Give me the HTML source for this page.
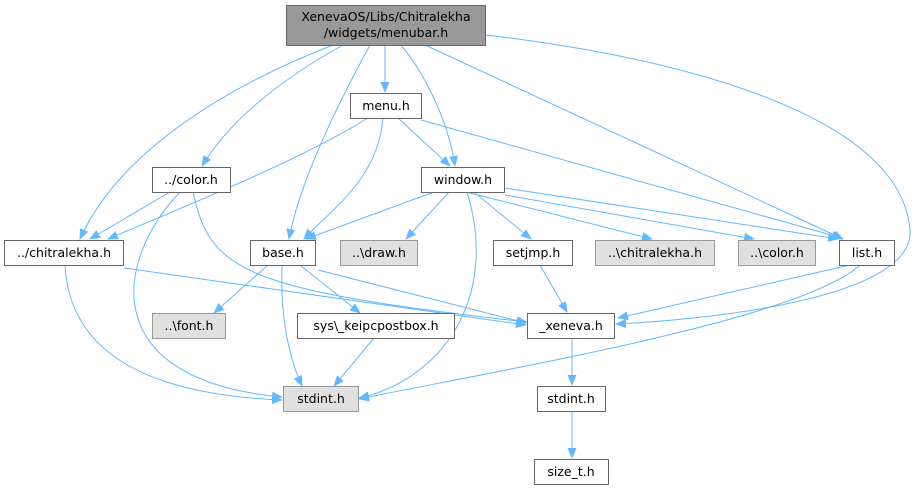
<!DOCTYPE html>
<html><head><meta charset="utf-8"><style>
html,body{margin:0;padding:0;background:#fff;}
svg{display:block;}
text{font-family:"DejaVu Sans","Liberation Sans",sans-serif;font-size:12.5px;fill:#000;text-anchor:middle;}
.n{fill:#fff;stroke:#666;stroke-width:1;}
.g{fill:#e0e0e0;stroke:#999;stroke-width:1;}
.e{fill:none;stroke:#63b8ff;stroke-width:1;marker-end:url(#a);}
</style></head><body>
<svg width="918" height="491" viewBox="0 0 918 491" xmlns="http://www.w3.org/2000/svg">
<defs><marker id="a" markerWidth="11" markerHeight="9" refX="10" refY="4.5" orient="auto" markerUnits="userSpaceOnUse"><path d="M0,0 L11,4.5 L0,9 z" fill="#63b8ff"/></marker></defs>
<path class="e" d="M385,45 L385,92"/>
<path class="e" d="M333,45 C230,85 120,150 80,239"/>
<path class="e" d="M343,45 C280,80 230,120 202,166"/>
<path class="e" d="M370,45 C340,100 300,180 289,239"/>
<path class="e" d="M401,45 C430,80 450,130 455,166"/>
<path class="e" d="M425,45 L843,239"/>
<path class="e" d="M485,35 C620,50 900,100 910,230 C915,300 700,320 616,324"/>
<path class="e" d="M368,118 C300,160 200,200 108,239"/>
<path class="e" d="M383,118 C378,180 330,210 304,239"/>
<path class="e" d="M398,118 L450,166"/>
<path class="e" d="M421,120 L842,238"/>
<path class="e" d="M170,192 L90,239"/>
<path class="e" d="M180,192 C115,260 95,380 282,397"/>
<path class="e" d="M193,192 C210,270 240,290 527,322"/>
<path class="e" d="M434,192 L306,239"/>
<path class="e" d="M449,192 L406,239"/>
<path class="e" d="M474,192 L531,239"/>
<path class="e" d="M466,192 L652,239"/>
<path class="e" d="M505,195 L754,239"/>
<path class="e" d="M505,188 L838,239"/>
<path class="e" d="M467,192 C500,300 440,380 359,398"/>
<path class="e" d="M268,265 L214,313"/>
<path class="e" d="M300,265 L360,313"/>
<path class="e" d="M318,270 L526,323"/>
<path class="e" d="M282,265 C280,320 290,360 302,386"/>
<path class="e" d="M124,268 L526,325"/>
<path class="e" d="M65,265 C70,360 160,395 282,400"/>
<path class="e" d="M540,265 L567,312"/>
<path class="e" d="M850,265 L618,318"/>
<path class="e" d="M860,265 C800,320 500,370 359,399"/>
<path class="e" d="M374,338 L334,386"/>
<path class="e" d="M572,338 L572,385"/>
<path class="e" d="M572,411 L572,458"/>
<rect x="286.5" y="5.5" width="199" height="40" fill="#999" stroke="#666"/>
<text x="386" y="21">XenevaOS/Libs/Chitralekha</text>
<text x="386" y="37">/widgets/menubar.h</text>
<rect class="n" x="350.5" y="93.5" width="71" height="25"/><text x="386" y="110">menu.h</text>
<rect class="n" x="152.5" y="167.5" width="78" height="25"/><text x="191" y="184">../color.h</text>
<rect class="n" x="421.5" y="167.5" width="83" height="25"/><text x="463" y="184">window.h</text>
<rect class="n" x="4.5" y="240.5" width="119" height="25"/><text x="64" y="257">../chitralekha.h</text>
<rect class="n" x="250.5" y="240.5" width="65" height="25"/><text x="283" y="257">base.h</text>
<rect class="g" x="340.5" y="240.5" width="77" height="25"/><text x="379" y="257">..\draw.h</text>
<rect class="n" x="493.5" y="240.5" width="79" height="25"/><text x="533" y="257">setjmp.h</text>
<rect class="g" x="595.5" y="240.5" width="119" height="25"/><text x="655" y="257">..\chitralekha.h</text>
<rect class="g" x="738.5" y="240.5" width="77" height="25"/><text x="777" y="257">..\color.h</text>
<rect class="n" x="839.5" y="240.5" width="55" height="25"/><text x="867" y="257">list.h</text>
<rect class="g" x="152.5" y="313.5" width="73" height="25"/><text x="189" y="330">..\font.h</text>
<rect class="n" x="297.5" y="313.5" width="157" height="25"/><text x="376" y="330">sys\_keipcpostbox.h</text>
<rect class="n" x="527.5" y="313.5" width="87" height="25"/><text x="571" y="330">_xeneva.h</text>
<rect class="g" x="283.5" y="386.5" width="75" height="25"/><text x="321" y="403">stdint.h</text>
<rect class="n" x="537.5" y="386.5" width="68" height="25"/><text x="571" y="403">stdint.h</text>
<rect class="n" x="534.5" y="459.5" width="74" height="25"/><text x="571" y="476">size_t.h</text>
</svg>
</body></html>
